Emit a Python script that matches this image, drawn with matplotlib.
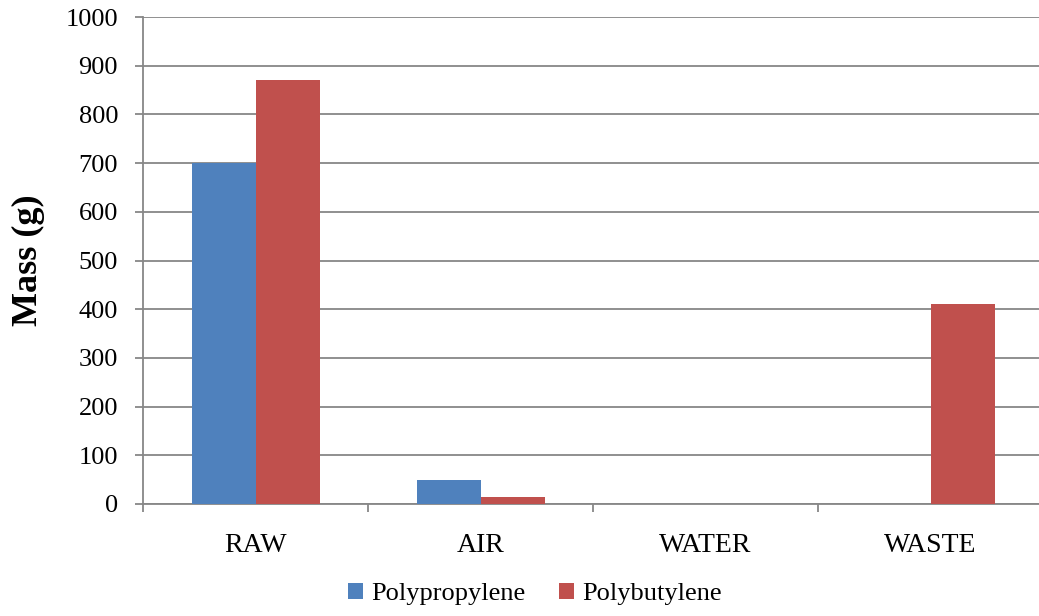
import numpy as np
import matplotlib

matplotlib.use("Agg")
import matplotlib.pyplot as plt

categories = ["RAW", "AIR", "WATER", "WASTE"]
polypropylene = [700, 50, 0, 0]
polybutylene = [870, 15, 0, 410]
series_names = ["Polypropylene", "Polybutylene"]
colors = ["#4F81BD", "#C0504D"]
grid_color = "#878787"

plt.rcParams["font.family"] = ["Liberation Serif", "DejaVu Serif"]

fig = plt.figure(figsize=(10.39, 6.16), dpi=100)
ax = fig.add_axes([143 / 1039, 112 / 616, 900 / 1039, 487 / 616])

x = np.arange(len(categories))
w = 64 / 225
ax.bar(x - w / 2, polypropylene, w, color=colors[0], label=series_names[0], zorder=3)
ax.bar(x + w / 2, polybutylene, w, color=colors[1], label=series_names[1], zorder=3)

ax.set_xlim(-0.5, len(categories) - 0.5)
ax.set_ylim(0, 1000)
ax.set_yticks(np.arange(0, 1001, 100))
ax.yaxis.grid(True, color=grid_color, linewidth=1.3, zorder=0)
ax.set_axisbelow(True)

# category labels centred, tick marks on the category boundaries
ax.set_xticks(x)
ax.set_xticklabels(categories, fontsize=20)
ax.tick_params(axis="x", length=0, pad=21)
ax.set_xticks(np.arange(-0.5, len(categories)), minor=True)
ax.tick_params(axis="x", which="minor", length=6, width=1.3, color=grid_color)
ax.tick_params(axis="y", labelsize=19, length=6, width=1.3, color=grid_color, pad=12)

for side in ["top", "right"]:
    ax.spines[side].set_visible(False)
for side in ["left", "bottom"]:
    ax.spines[side].set_color(grid_color)
    ax.spines[side].set_linewidth(1.3)

ax.set_ylabel("Mass (g)", fontsize=26, fontweight="bold")
ax.yaxis.set_label_coords((45 - 143) / 900, (616 - 260 - 112) / 487)

ax.legend(loc="center", bbox_to_anchor=(535 / 1039, 22 / 616), bbox_transform=fig.transFigure,
          ncol=2, frameon=False, fontsize=19, handlelength=0.55, handleheight=0.6,
          handletextpad=0.3, columnspacing=1.3)

fig.savefig("out.png", dpi=100)
